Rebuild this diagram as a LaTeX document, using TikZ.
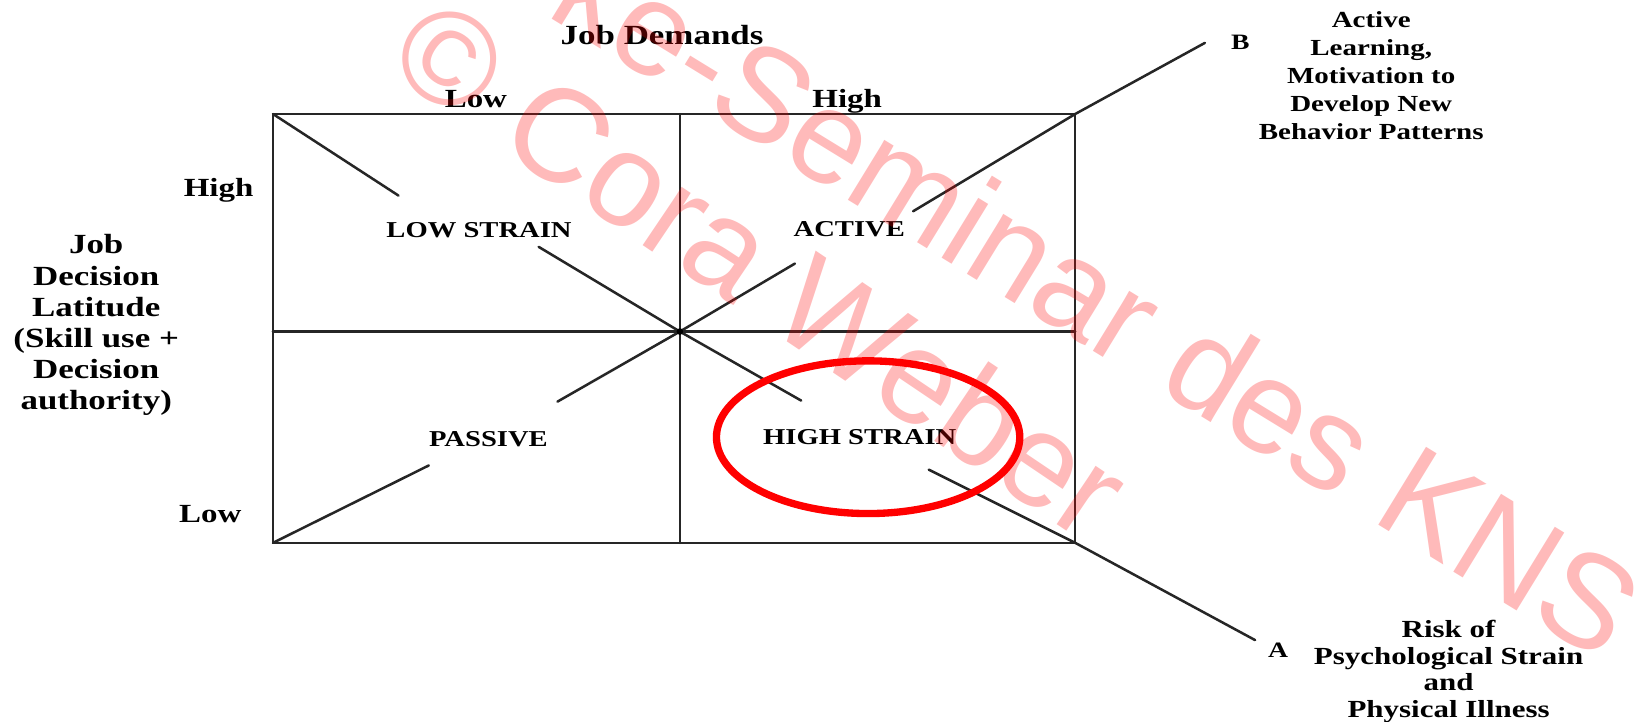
\documentclass[tikz,border=0pt]{standalone}
\usepackage{fontspec}
\setmainfont{Liberation Serif}
\newfontfamily\wmfont{Liberation Sans}
\begin{document}
\begin{tikzpicture}[x=1pt,y=-1pt,
  ln/.style={line width=2.4pt, draw=black!85, line cap=round},
  lbl/.style={inner sep=0pt, xscale=1.26, align=center, text=black},
  wm/.style={inner sep=0pt, text=red, text opacity=0.27, font=\wmfont\fontsize{127}{140}\selectfont}]
\useasboundingbox (0,0) rectangle (1568,690.3);
\clip (0,0) rectangle (1568,690.3);
\fill[white] (0,0) rectangle (1568,690.3);
% grid coordinates
\coordinate (tl) at (261,109);
\coordinate (tr) at (1028,109);
\coordinate (br) at (1028,519);
\coordinate (bl) at (261,519);
\coordinate (tm) at (650,109);
\coordinate (bm) at (650,519);
\coordinate (lm) at (261,317);
\coordinate (rm) at (1028,317);
\coordinate (c) at (650,317);
% diagonal segment ends
\coordinate (d1) at (381,187);
\coordinate (d2) at (515,236);
\coordinate (d3) at (766,383);
\coordinate (d4) at (888,449);
\coordinate (ea) at (1200,612);
\coordinate (e1) at (410,445);
\coordinate (e2) at (533,384);
\coordinate (e3) at (760,252);
\coordinate (e4) at (873,202);
\coordinate (eb) at (1152,41);
% box
\draw[ln] (tl) rectangle (br);
\draw[ln] (tm) -- (bm);
\draw[ln] (lm) -- (rm);
% diagonals
\draw[ln] (tl) -- (d1);
\draw[ln] (d2) -- (c) -- (d3);
\draw[ln] (d4) -- (br) -- (ea);
\draw[ln] (bl) -- (e1);
\draw[ln] (e2) -- (c) -- (e3);
\draw[ln] (e4) -- (tr) -- (eb);
\fill[black] (c) circle (3.2);
% labels
\node[lbl, anchor=base, font=\fontsize{26.5}{30}\selectfont\bfseries] (jd) at (633,43) {Job Demands};
\node[lbl, anchor=base, font=\fontsize{25}{28}\selectfont\bfseries] (tlow) at (455,103) {Low};
\node[lbl, anchor=base, font=\fontsize{25}{28}\selectfont\bfseries] (thigh) at (810,103) {High};
\node[lbl, anchor=base, font=\fontsize{25}{28}\selectfont\bfseries] (lhigh) at (209,188) {High};
\node[lbl, anchor=base, font=\fontsize{25}{28}\selectfont\bfseries] (llow) at (201,500) {Low};
\node[lbl, font=\fontsize{26.5}{29.8}\selectfont\bfseries] (jdl) at (92,311)
  {Job\\Decision\\Latitude\\(Skill use +\\Decision\\authority)};
\node[lbl, anchor=base, font=\fontsize{21.7}{26}\selectfont\bfseries] (ls) at (458,227) {LOW STRAIN};
\node[lbl, anchor=base, font=\fontsize{21.7}{26}\selectfont\bfseries] (ac) at (812,226) {ACTIVE};
\node[lbl, anchor=base, font=\fontsize{21.7}{26}\selectfont\bfseries] (pa) at (467,427) {PASSIVE};
\node[lbl, anchor=base, font=\fontsize{21.7}{26}\selectfont\bfseries] (hs) at (822,425) {HIGH STRAIN};
\node[lbl, anchor=base, font=\fontsize{21}{26}\selectfont\bfseries] (lb) at (1186,47) {B};
\node[lbl, anchor=base, font=\fontsize{21}{26}\selectfont\bfseries] (la) at (1222,629) {A};
\node[lbl, font=\fontsize{22}{26.7}\selectfont\bfseries] (act) at (1311,72)
  {Active\\Learning,\\Motivation to\\Develop New\\Behavior Patterns};
\node[lbl, font=\fontsize{23.5}{25.7}\selectfont\bfseries] (risk) at (1385,642)
  {Risk of\\Psychological Strain\\and\\Physical Illness};
% highlight
\draw[red, line width=7pt] (830,418) ellipse [x radius=145, y radius=73];
% watermark
\node[wm, rotate=-31.5] (wm1) at (1050,285) {ke-Seminar des KNS};
\node[wm, rotate=-34] (wm2) at (728,256) {© Cora Weber};
\end{tikzpicture}
\end{document}
